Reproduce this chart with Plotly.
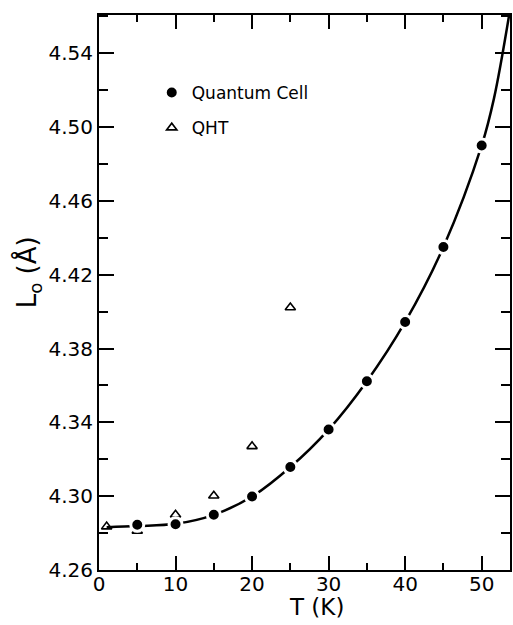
import plotly.graph_objects as go

# Quantum Cell results (filled circles)
T_qc = [5, 10, 15, 20, 25, 30, 35, 40, 45, 50]
L_qc = [4.2845, 4.2848, 4.2899, 4.2998, 4.3158, 4.3361, 4.3623, 4.3944, 4.4350, 4.4900]

# QHT results (open triangles)
T_qht = [1, 5, 10, 15, 20, 25]
L_qht = [4.2835, 4.2812, 4.2899, 4.3002, 4.3270, 4.4022]

# Smooth curve through the quantum cell results
T_fit = [1, 5, 10, 15, 20, 25, 30, 35, 40, 45, 50, 51.6, 53.6]
L_fit = [4.2832, 4.2838, 4.2850, 4.2899, 4.2998, 4.3158, 4.3361, 4.3623, 4.3944, 4.4350, 4.4900, 4.5154, 4.5610]

x_ticks = [0, 10, 20, 30, 40, 50]
y_ticks = [4.26, 4.30, 4.34, 4.38, 4.42, 4.46, 4.50, 4.54]

FONT = "DejaVu Sans"

fig = go.Figure()

fig.add_trace(go.Scatter(
    x=T_fit, y=L_fit, mode="lines", line=dict(color="black", width=2.5, shape="spline"),
    showlegend=False, hoverinfo="skip"))

fig.add_trace(go.Scatter(
    x=T_qht, y=L_qht, mode="markers", name="QHT", legendgroup="b", legendrank=2,
    marker=dict(symbol="triangle-up-open", size=9, color="black", line=dict(width=1.6, color="black"))))

fig.add_trace(go.Scatter(
    x=T_qc, y=L_qc, mode="markers", name="Quantum Cell", legendgroup="a", legendrank=1,
    marker=dict(symbol="circle", size=13, color="black", line=dict(width=3, color="white"))))

axis_common = dict(
    showline=True, linecolor="black", linewidth=2, mirror="ticks",
    ticks="inside", tickwidth=2, tickcolor="black",
    showgrid=False, zeroline=False,
    tickfont=dict(family=FONT, size=20, color="black"),
)

fig.update_xaxes(
    range=[0, 53.7], tickvals=x_ticks, ticklen=14, ticklabelstandoff=-5,
    minor=dict(dtick=5, tick0=0, ticks="inside", ticklen=7, tickwidth=2, tickcolor="black"),
    **axis_common)
fig.update_yaxes(
    range=[4.26, 4.5607], tickvals=y_ticks, tickformat=".2f", ticklen=15,
    minor=dict(dtick=0.02, tick0=4.26, ticks="inside", ticklen=9, tickwidth=2, tickcolor="black"),
    **axis_common)

fig.update_layout(
    width=513, height=625,
    margin=dict(l=99, r=1, t=15, b=55),
    plot_bgcolor="white", paper_bgcolor="white",
    font=dict(family=FONT, color="black"),
    legend=dict(
        x=(152 - 99) / 413, y=(570 - 75) / 555, xanchor="left", yanchor="top",
        bgcolor="rgba(0,0,0,0)", borderwidth=0, traceorder="grouped",
        tracegroupgap=10, itemwidth=30,
        font=dict(family=FONT, size=17, color="black")),
    annotations=[
        dict(text="T (K)", xref="paper", yref="paper", x=(318 - 99) / 413, y=(570 - 607) / 555,
             xanchor="center", yanchor="middle", showarrow=False,
             font=dict(family=FONT, size=23, color="black")),
        dict(text="L<sub>o</sub> (Å)", xref="paper", yref="paper", x=(28 - 99) / 413, y=(570 - 272) / 555,
             xanchor="center", yanchor="middle", showarrow=False, textangle=-90,
             font=dict(family=FONT, size=26, color="black")),
    ],
)

fig.write_html("out.html", config={"displayModeBar": False},
               post_script="document.body.style.margin='0';document.body.style.overflow='hidden';")
